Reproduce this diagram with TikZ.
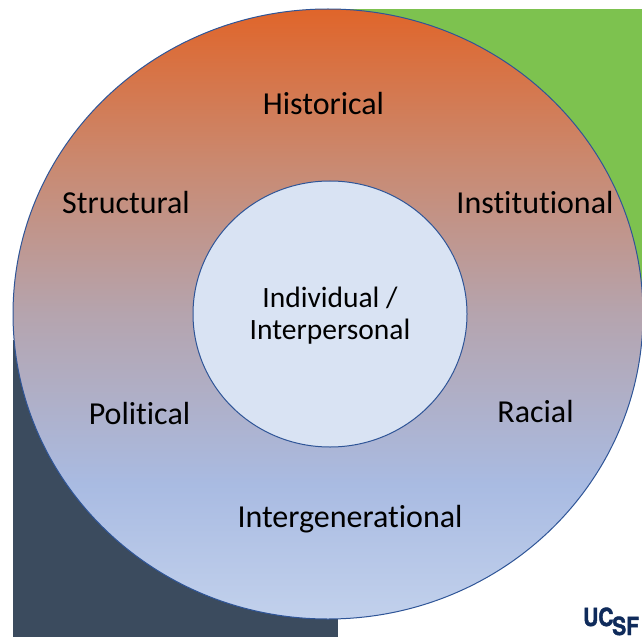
\documentclass[tikz,border=0pt]{standalone}
\usepackage{fontspec}
\usetikzlibrary{shapes.geometric}
\setmainfont[Ligatures=CommonOff]{Carlito}
\newfontfamily\logofont[FakeStretch=0.84,FakeBold=1.6]{TeX Gyre Heros}
\definecolor{ringedge}{HTML}{2F5597}
\definecolor{greenbox}{HTML}{7DC24F}
\definecolor{darkbox}{HTML}{3B4B5E}
\definecolor{innerfill}{HTML}{D9E3F3}
\definecolor{logoblue}{HTML}{0F2B5B}
\definecolor{ctop}{HTML}{E0652A}
\definecolor{cmida}{HTML}{C98A72}
\definecolor{cmidb}{HTML}{B5A4AE}
\definecolor{cmidc}{HTML}{A9BBE2}
\definecolor{cbot}{HTML}{C2D1EC}
% 25bp = bottom of the ellipse, 75bp = top (y 619 .. 9 in pixels)
\pgfdeclareverticalshading{ringshade}{100bp}{
  color(0bp)=(cbot);
  color(25bp)=(cbot);
  color(36bp)=(cmidc);
  color(50bp)=(cmidb);
  color(62bp)=(cmida);
  color(75bp)=(ctop);
  color(100bp)=(ctop)}
\tikzset{
  x=1bp,y=-1bp,
  label text/.style={font=\fontsize{32bp}{36bp}\selectfont,text=black,inner sep=0pt,align=center},
  inner text/.style={font=\fontsize{29.5bp}{32bp}\selectfont,text=black,inner sep=0pt,align=center},
  logo text/.style={font=\logofont\bfseries\fontsize{25bp}{25bp}\selectfont,text=logoblue,inner sep=0pt},
  edge line/.style={draw=ringedge,line width=1bp}
}
\begin{document}
\begin{tikzpicture}
\useasboundingbox (0,0) rectangle (642,637);
\fill[white] (0,0) rectangle (642,637);
\fill[greenbox] (345,9) rectangle (642,300);
\fill[darkbox] (13,340) rectangle (338,637);
\begin{scope}
\clip (0,0) rectangle (642,637);
\path[edge line,shading=ringshade] (328,314) ellipse [x radius=315,y radius=305];
\end{scope}
\node[ellipse,draw=ringedge,fill=innerfill,line width=1bp,minimum width=274bp,minimum height=266bp,inner sep=0pt] (core) at (330,314) {};
\node[inner text] (coretext) at (330,316) {Individual /\\Interpersonal};
\node[label text] (hist) at (323.5,104) {Historical};
\node[label text] (struct) at (126,203) {Structural};
\node[label text] (inst) at (535,203) {Institutional};
\node[label text] (pol) at (139.5,414) {Political};
\node[label text] (race) at (535.5,412) {Racial};
\node[label text] (inter) at (350,519) {Intergenerational};
\node[logo text,anchor=base west] (uc) at (583,626) {UC};
\node[logo text,anchor=base west] (sf) at (612,635) {SF};
\end{tikzpicture}
\end{document}
